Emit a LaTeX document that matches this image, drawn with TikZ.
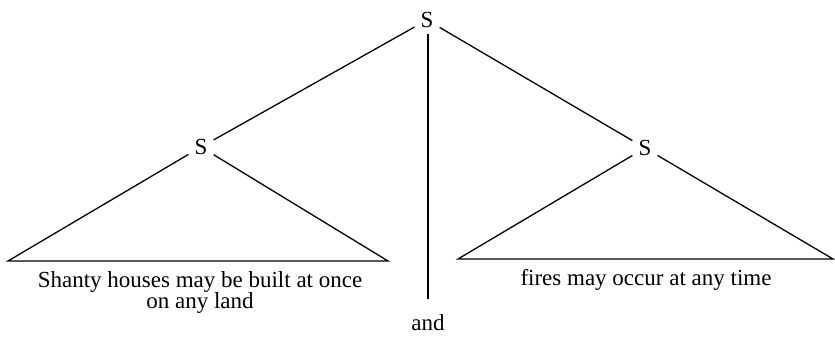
\documentclass[tikz,border=0pt]{standalone}
\usepackage{fontspec}
\setmainfont{Liberation Serif}
\begin{document}
\begin{tikzpicture}[x=1pt,y=-1pt,
  lab/.style={font=\fontsize{23}{24}\selectfont, inner sep=6pt},
  txt/.style={font=\fontsize{23}{21}\selectfont, align=center, inner sep=0pt},
  edge/.style={line width=1.3pt}]
\useasboundingbox (0,0) rectangle (835,345);
\node[lab] (top) at (427,20) {S};
\node[lab] (ls) at (201,147) {S};
\node[lab] (rs) at (645,148) {S};
\coordinate (la) at (8,261);
\coordinate (lb) at (388,261);
\coordinate (ra) at (458,259);
\coordinate (rb) at (833,259);
\coordinate (vbot) at (428,299);
\draw[edge] (top) -- (ls);
\draw[edge] (top) -- (rs);
\draw[edge] (top.south -| vbot) -- (vbot);
\draw[edge] (ls) -- (la) -- (lb) -- (ls);
\draw[edge] (rs) -- (ra) -- (rb) -- (rs);
\node[txt] (lt) at (200,292) {Shanty houses may be built at once\\on any land};
\node[txt] (rt) at (646,280) {fires may occur at any time};
\node[txt] (and) at (428,323) {and};
\end{tikzpicture}
\end{document}
